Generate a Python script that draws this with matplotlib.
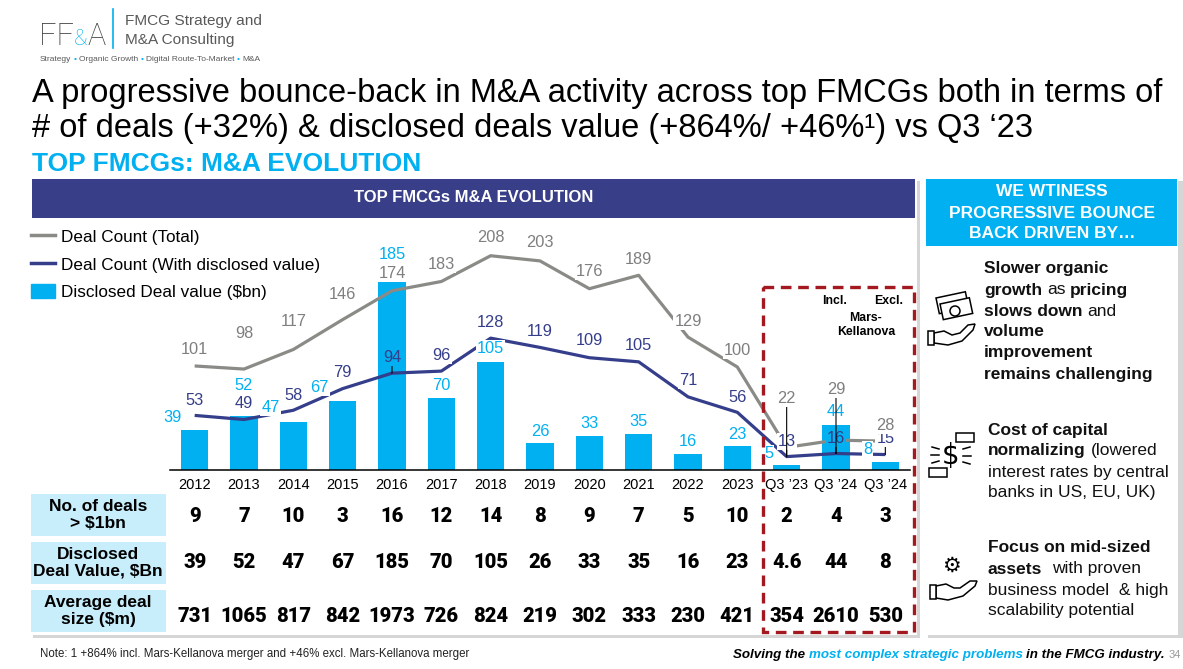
import matplotlib.pyplot as plt
import numpy as np
from matplotlib.lines import Line2D
from matplotlib.patches import Circle, Patch, Polygon, Rectangle
from matplotlib.transforms import blended_transform_factory

BASE = 'Liberation Sans'
plt.rcParams['font.family'] = [BASE, 'DejaVu Sans']

# ---- data ----
categories = ['2012', '2013', '2014', '2015', '2016', '2017', '2018', '2019',
              '2020', '2021', '2022', '2023', 'Q3 ’23', 'Q3 ’24', 'Q3 ’24']
deal_total = [101, 98, 117, 146, 174, 183, 208, 203, 176, 189, 129, 100, 22, 29, 28]
deal_disclosed = [53, 49, 58, 79, 94, 96, 128, 119, 109, 105, 71, 56, 13, 16, 15]
deal_value_bn = [39, 52, 47, 67, 185, 70, 105, 26, 33, 35, 16, 23, 4.6, 44, 8]
deals_over_1bn = [9, 7, 10, 3, 16, 12, 14, 8, 9, 7, 5, 10, 2, 4, 3]
avg_deal_size_m = [731, 1065, 817, 842, 1973, 726, 824, 219, 302, 333, 230, 421, 354, 2610, 530]

# label placement (pixels above the anchor point, pixels sideways)
total_dy = [16, 36, 28, 25, 17, 17, 18, 18, 17, 16, 16, 16, 49, 51, 16]
disclosed_dy = [15, 16, 15, 16, 16, 16, 16, 16, 17, 16, 16, 15, 15, 15, 16]
value_dy = [12, 31, 14, 13, 25, 12, 13, 12, 13, 12, 12, 12, 12, 13, 12]
value_dx = [-22, 0, -23, -23, 0, 0, 0, 0, 0, 0, 0, 0, -18, 0, -18]
total_leaders = [12, 13]
disclosed_leaders = [4, 12, 13, 14]

CYAN = '#00B0F0'
NAVY = '#353E8A'
GRAY = '#8A8A86'
GRAY_TXT = '#7F7F7F'
HEADER = '#383F88'

W, H = 1183, 669
fig = plt.figure(figsize=(W / 100, H / 100), dpi=100)
bg = fig.add_axes([0, 0, 1, 1], zorder=0)
fg = fig.add_axes([0, 0, 1, 1], zorder=4)
for a in (bg, fg):
    a.set_xlim(0, W)
    a.set_ylim(H, 0)
    a.axis('off')

renderer = fig.canvas.get_renderer()


def runs_line(x, y, runs, size, ha='left', family=BASE, va='center'):
    """Put a line of differently styled text pieces one after the other."""
    items, total = [], 0
    for run in runs:
        text, weight, color, style = run[:4]
        fs = run[4] if len(run) > 4 else size
        sp = 0.278 * fs * fig.dpi / 72
        lead = len(text) - len(text.lstrip(' '))
        trail = len(text) - len(text.rstrip(' '))
        t = fg.text(0, y, text.strip(' '), fontsize=fs, fontweight=weight, color=color,
                    fontstyle=style, family=family, ha='left', va=va)
        w = t.get_window_extent(renderer=renderer).width
        items.append((t, lead * sp, w, trail * sp))
        total += lead * sp + w + trail * sp
    cur = x - total if ha == 'right' else x
    for t, a, w, b in items:
        cur += a
        t.set_x(cur)
        cur += w + b


# ---- logo ----
runs_line(39, 45, [('FF', 'light', '#3F3F3F', 'normal', 22),
                   ('&', 'light', CYAN, 'normal', 16),
                   ('A', 'light', '#3F3F3F', 'normal', 22)], 22, family='Roboto', va='baseline')
fg.plot([113, 113], [9, 48], color=CYAN, lw=1.2)
fg.text(125, 21, 'FMCG Strategy and', fontsize=11.1, color='#595959', va='center')
fg.text(125, 40, 'M&A Consulting', fontsize=11.1, color='#595959', va='center')
tag = []
for i, w in enumerate(['Strategy', 'Organic Growth', 'Digital Route-To-Market', 'M&A']):
    if i:
        tag.append((' • ', 'normal', CYAN, 'normal'))
    tag.append((w, 'normal', '#595959', 'normal'))
runs_line(40, 61, tag, 6, va='baseline')

# ---- titles ----
fg.text(32, 102, 'A progressive bounce-back in M&A activity across top FMCGs both in terms of',
        fontsize=23.5, va='baseline')
fg.text(32, 137, '# of deals (+32%) & disclosed deals value (+864%/ +46%¹) vs Q3 ‘23',
        fontsize=23.5, va='baseline')
fg.text(32, 171, 'TOP FMCGs: M&A EVOLUTION', fontsize=19, fontweight='bold', color=CYAN,
        va='baseline')

# ---- panels ----
bg.add_patch(Rectangle((33, 181), 887, 457, fc='#d6d6d6', ec='none'))
bg.add_patch(Rectangle((30, 178), 887, 457, fc='white', ec='none'))
bg.add_patch(Rectangle((32, 179), 883, 39, fc=HEADER, ec='none'))
fg.text(474, 198, 'TOP FMCGs M&A EVOLUTION', fontsize=12, fontweight='bold', color='white',
        ha='center', va='center')
bg.add_patch(Rectangle((928, 181), 255, 457, fc='#d6d6d6', ec='none'))
bg.add_patch(Rectangle((925, 178), 253, 457, fc='white', ec='none'))
bg.add_patch(Rectangle((926, 179), 251, 67, fc=CYAN, ec='none'))
for y, s in zip([192, 213, 234], ['WE WTINESS', 'PROGRESSIVE BOUNCE', 'BACK DRIVEN BY…']):
    fg.text(1052, y, s, fontsize=12.5, fontweight='bold', color='white', ha='center', va='center')

# ---- chart ----
ax = fig.add_axes([170 / W, (H - 470) / H, 740 / W, 250 / H], zorder=2)
ax.patch.set_alpha(0)
x = np.arange(len(categories))
ax.bar(x, deal_value_bn, width=0.55, color=CYAN, zorder=1)
ax.plot(x, deal_total, color=GRAY, lw=2.3, zorder=2, solid_capstyle='butt')
ax.plot(x, deal_disclosed, color=NAVY, lw=2.3, zorder=2, solid_capstyle='butt')
ax.set_xlim(-0.5, len(categories) - 0.5)
ax.set_ylim(0, 242.7)
for s in ('top', 'right', 'left'):
    ax.spines[s].set_visible(False)
ax.spines['bottom'].set_color('black')
ax.spines['bottom'].set_linewidth(1.1)
ax.set_yticks([])
ax.set_xticks(x, categories)
ax.tick_params(axis='x', length=0, pad=6, labelsize=10.5, labelcolor='black')

k = ax.bbox.height / 242.7  # pixels per unit
lead_props = dict(arrowstyle='-', color='black', lw=0.8, shrinkA=0, shrinkB=0)


def put_label(i, text, anchor, dy, color, face, dx=0, leader=False):
    ax.annotate(text, xy=(i, anchor), xytext=(dx, dy), textcoords='offset pixels',
                ha='center', va='center', fontsize=11.8, color=color, zorder=3,
                annotation_clip=False,
                bbox=dict(boxstyle='square,pad=0.06', fc=face, ec='none'),
                arrowprops=lead_props if leader else None)


for i in x:
    v = deal_value_bn[i]
    put_label(i, f'{v:.0f}', v, value_dy[i], CYAN, 'white', dx=value_dx[i])
for i in x:
    on_bar = deal_value_bn[i] > deal_disclosed[i] + 22
    put_label(i, str(deal_disclosed[i]), deal_disclosed[i], disclosed_dy[i], NAVY,
              CYAN if on_bar else 'white', leader=i in disclosed_leaders)
for i in x:
    if i in total_leaders:
        up = (deal_total[i] - deal_disclosed[i]) * k + total_dy[i]
        put_label(i, str(deal_total[i]), deal_disclosed[i], up, GRAY_TXT, 'white', leader=True)
    else:
        put_label(i, str(deal_total[i]), deal_total[i], total_dy[i], GRAY_TXT, 'white')

handles = [Line2D([], [], color=GRAY, lw=2.5), Line2D([], [], color=NAVY, lw=2.5),
           Patch(color=CYAN)]
ax.legend(handles, ['Deal Count (Total)', 'Deal Count (With disclosed value)',
                    'Disclosed Deal value ($bn)'],
          loc='upper left', bbox_to_anchor=(31 / W, (H - 229) / H), bbox_transform=fig.transFigure,
          frameon=False, fontsize=12.3, handlelength=1.4, handleheight=0.9, handletextpad=0.35,
          labelspacing=0.68, borderpad=0, borderaxespad=0)

# quarter comparison frame
fg.add_patch(Rectangle((763, 287), 151, 345, fill=False, ec='#A3191F', lw=2.4,
                       ls=(0, (3.2, 2.0))))
for (tx, ty), s in zip([(835, 301), (889, 301), (866, 318), (866, 332)],
                       ['Incl.', 'Excl.', 'Mars-', 'Kellanova']):
    fg.text(tx, ty, s, fontsize=8.8, fontweight='bold', ha='center', va='center')

# ---- table ----
row_labels = [('No. of deals\n> $1bn', 515), ('Disclosed\nDeal Value, $Bn', 563),
              ('Average deal\nsize ($m)', 611)]
for s, yc in row_labels:
    bg.add_patch(Rectangle((31, yc - 21), 135, 42, fc='#C8EEFB', ec='none'))
    fg.text(98, yc, s, fontsize=12.5, fontweight='bold', ha='center', va='center',
            linespacing=1.1)

trans = blended_transform_factory(ax.transData, fg.transData)
rows = [(deals_over_1bn, 517), (deal_value_bn, 563), (avg_deal_size_m, 617)]
for values, yc in rows:
    for i, v in enumerate(values):
        fg.text(i, yc, f'{v:g}', fontsize=14.5, fontweight='black',
                family=['Roboto', 'DejaVu Sans'], ha='center', va='center', transform=trans)

# ---- drivers panel ----
B, N = 'bold', 'normal'
TXT = '#111111'
bullets = [
    (984, [269, 290, 311, 332, 353, 374],
     [[('Slower organic', B)],
      [('growth', B), (' as ', N), ('pricing', B)],
      [('slows down', B), (' and', N)],
      [('volume', B)],
      [('improvement', B)],
      [('remains challenging', B)]]),
    (988, [430, 451, 472, 493],
     [[('Cost of capital', B)],
      [('normalizing', B), (' (lowered', N)],
      [('interest rates by central', N)],
      [('banks in US, EU, UK)', N)]]),
    (988, [548, 569, 590, 611],
     [[('Focus on mid-sized', B)],
      [('assets', B), ('  with proven', N)],
      [('business model  & high', N)],
      [('scalability potential', N)]]),
]
for bx, ys, lines in bullets:
    for y, line in zip(ys, lines):
        runs_line(bx, y, [(t, w, TXT, 'normal') for t, w in line], 12.5)

# simple line icons
ik = dict(fc='white', ec='black', lw=1.1)
fg.add_patch(Rectangle((936, 298), 30, 16, angle=-12, **ik))
fg.add_patch(Rectangle((940, 304), 30, 16, angle=-12, **ik))
fg.add_patch(Circle((955, 311), 5, **ik))
fg.add_patch(Polygon([(934, 333), (944, 331), (952, 335), (960, 333), (968, 325), (975, 324),
                      (973, 330), (962, 341), (948, 345), (934, 343)], **ik))
fg.add_patch(Rectangle((928, 331), 6, 14, **ik))

fg.text(951, 456, '$', fontsize=20, family='DejaVu Sans', ha='center', va='center')
fg.add_patch(Rectangle((956, 433), 18, 9, **ik))
fg.add_patch(Rectangle((929, 468), 18, 9, **ik))
for xs, ys in [((932, 939), (447, 449)), ((931, 939), (455, 455)), ((932, 939), (463, 461)),
               ((963, 970), (449, 447)), ((963, 971), (456, 456)), ((963, 970), (462, 464))]:
    fg.plot(xs, ys, color='black', lw=1.1)

fg.text(951, 566, '⚙', fontsize=15, family='DejaVu Sans', ha='center', va='center')
fg.add_patch(Polygon([(936, 586), (946, 584), (954, 588), (960, 588), (970, 581), (977, 581),
                      (975, 586), (963, 596), (948, 600), (936, 598)], **ik))
fg.add_patch(Rectangle((930, 585), 6, 14, **ik))

# ---- footer ----
fg.text(40, 654, 'Note: 1 +864% incl. Mars-Kellanova merger and +46% excl. Mars-Kellanova merger',
        fontsize=8.3, va='center', color='#222222')
runs_line(1165, 655, [('Solving the ', B, 'black', 'italic'),
                      ('most complex strategic problems', B, CYAN, 'italic'),
                      (' in the FMCG industry.', B, 'black', 'italic')], 9.6, ha='right')
fg.text(1169, 655, '34', fontsize=8, color='#9a9a9a', va='center')

fig.savefig('out.png', dpi=100)
